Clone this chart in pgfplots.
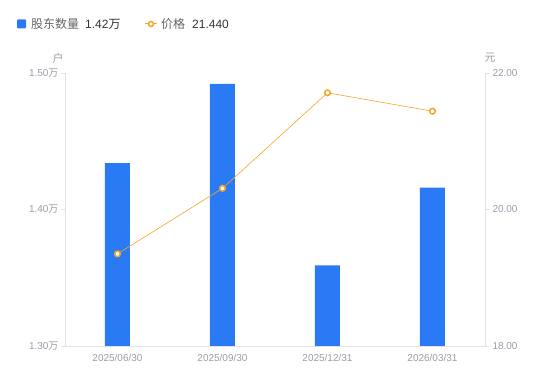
\documentclass[border=0pt]{standalone}
\usepackage{pgfplots}
\pgfplotsset{compat=1.18}
\usepackage{fontspec}
\setmainfont{Liberation Sans}
\newfontfamily\cjk{Noto Sans CJK SC}
\definecolor{barblue}{HTML}{2A7AF5}
\definecolor{lineor}{HTML}{F5A623}
\definecolor{ticklab}{HTML}{9B9BAA}
\definecolor{axgray}{HTML}{E0E0E6}
\definecolor{legtxt}{HTML}{666666}
\definecolor{legval}{HTML}{333333}
\begin{document}
\begin{tikzpicture}[x=1pt,y=1pt]
\path (0,0) rectangle (550,381);
\begin{axis}[at={(65pt,35pt)}, anchor=south west, scale only axis,
  width=420pt, height=273pt,
  xmin=-0.5, xmax=3.5, ymin=1.3, ymax=1.5,
  ybar, bar width=25pt,
  xtick={0,1,2,3},
  xticklabels={2025/06/30,2025/09/30,2025/12/31,2026/03/31},
  ytick={1.3,1.4,1.5},
  yticklabels={1.30{\cjk 万},1.40{\cjk 万},1.50{\cjk 万}},
  axis x line*=bottom, axis y line*=left,
  axis line style={axgray, line width=0.8pt},
  tick align=outside,
  x tick style={draw=none},
  y tick style={axgray, line width=0.8pt},
  major tick length=4pt,
  tick label style={font=\fontsize{10}{10}\selectfont, text=ticklab},
  xticklabel style={yshift=-1pt},
  yticklabel style={xshift=1pt},
  /pgf/number format/assume math mode=true,
]
\addplot[fill=barblue, draw=none] coordinates {(0,1.434) (1,1.492) (2,1.359) (3,1.416)};
\end{axis}
\begin{axis}[at={(65pt,35pt)}, anchor=south west, scale only axis,
  width=420pt, height=273pt,
  xmin=-0.5, xmax=3.5, ymin=18, ymax=22,
  axis x line=none, axis y line*=right,
  ytick={18,20,22},
  yticklabels={18.00,20.00,22.00},
  axis line style={axgray, line width=0.8pt},
  tick align=outside,
  y tick style={axgray, line width=0.8pt},
  major tick length=4pt,
  tick label style={font=\fontsize{10}{10}\selectfont, text=ticklab},
  /pgf/number format/assume math mode=true,
]
\addplot[lineor, line width=0.6pt, mark=*, mark size=2.8pt,
  mark options={fill=white, draw=lineor, line width=1.5pt}]
  coordinates {(0,19.35) (1,20.31) (2,21.71) (3,21.44)};
\end{axis}
% legend
\fill[barblue, rounded corners=1pt] (17,352.5) rectangle (26,361.5);
\node[anchor=west, inner sep=0pt, text=legtxt, font=\cjk\fontsize{12}{12}\selectfont] at (31,357) {股东数量};
\node[anchor=west, inner sep=0pt, text=legval, font=\fontsize{12}{12}\selectfont] at (85,357) {1.42{\cjk 万}};
\draw[lineor, line width=1pt] (145,357) -- (157,357);
\draw[lineor, fill=white, line width=1.5pt] (151,357) circle (2.5);
\node[anchor=west, inner sep=0pt, text=legtxt, font=\cjk\fontsize{12}{12}\selectfont] at (161,357) {价格};
\node[anchor=west, inner sep=0pt, text=legval, font=\fontsize{12}{12}\selectfont] at (192,357) {21.440};
% units
\node[text=ticklab, font=\cjk\fontsize{11}{11}\selectfont] at (58,323) {户};
\node[text=ticklab, font=\cjk\fontsize{11}{11}\selectfont] at (490,323) {元};
\end{tikzpicture}
\end{document}
